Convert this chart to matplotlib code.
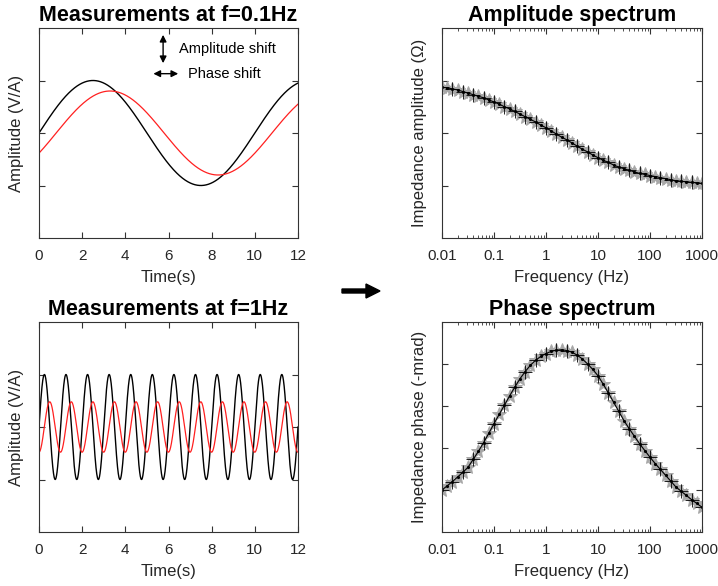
import numpy as np
import matplotlib
matplotlib.use('Agg')
import matplotlib.pyplot as plt
from matplotlib.ticker import FixedLocator, FixedFormatter, LogLocator, NullFormatter

plt.rcParams['font.family'] = ['Liberation Sans', 'DejaVu Sans']

# sine measurements: (frequency Hz, amplitude, phase lag rad)
f_low = 0.1
f_high = 1.0
ref_amp = 1.0
resp_amp_low = 0.8
resp_phase_low = 0.5
resp_amp_high = 0.48
resp_phase_high = 1.55
time_ticks = [0, 2, 4, 6, 8, 10, 12]

# spectra, 10 points per decade from 0.01 Hz to 1000 Hz
freq = np.logspace(-2, 3, 51)
amp_spec = [2.87, 2.86, 2.84, 2.82, 2.79, 2.76, 2.73, 2.70, 2.67, 2.63,
            2.59, 2.55, 2.50, 2.46, 2.41, 2.36, 2.31, 2.26, 2.21, 2.15,
            2.10, 2.04, 1.98, 1.92, 1.87, 1.81, 1.75, 1.69, 1.64, 1.58,
            1.53, 1.48, 1.44, 1.39, 1.35, 1.32, 1.29, 1.26, 1.23, 1.21,
            1.19, 1.17, 1.15, 1.13, 1.11, 1.09, 1.08, 1.07, 1.06, 1.05,
            1.04]
phase_spec = [1.00, 1.10, 1.20, 1.31, 1.42, 1.54, 1.73, 1.92, 2.13, 2.35,
              2.58, 2.80, 3.02, 3.24, 3.45, 3.65, 3.82, 3.97, 4.09, 4.18,
              4.25, 4.30, 4.33, 4.34, 4.32, 4.28, 4.21, 4.12, 4.00, 3.87,
              3.72, 3.52, 3.31, 3.09, 2.87, 2.65, 2.46, 2.28, 2.10, 1.94,
              1.78, 1.63, 1.49, 1.35, 1.21, 1.07, 0.97, 0.87, 0.77, 0.68,
              0.59]
freq_ticks = [0.01, 0.1, 1, 10, 100, 1000]
freq_labels = ['0.01', '0.1', '1', '10', '100', '1000']

W, H = 718, 586
fig = plt.figure(figsize=(W / 100, H / 100), dpi=100)


def box(x0, y0, x1, y1):
    # pixel box -> figure fraction
    return [x0 / W, 1 - y1 / H, (x1 - x0) / W, (y1 - y0) / H]


ax1 = fig.add_axes(box(39, 28, 298, 238))
ax2 = fig.add_axes(box(39, 322, 298, 532))
ax3 = fig.add_axes(box(442, 28, 702, 238))
ax4 = fig.add_axes(box(442, 322, 702, 532))

edge = '#333333'
txt = '#262626'


def style(ax):
    for s in ax.spines.values():
        s.set_color(edge)
        s.set_linewidth(0.8)
    ax.tick_params(which='both', direction='in', top=True, right=True,
                   color=edge, labelsize=11, labelcolor=txt, pad=8)
    ax.tick_params(which='major', length=4)
    ax.tick_params(which='minor', length=2)
    ax.set_yticklabels([])


t = np.linspace(0, 12, 2000)
for ax, f, ra, rp, title in [(ax1, f_low, resp_amp_low, resp_phase_low, 'Measurements at f=0.1Hz'),
                             (ax2, f_high, resp_amp_high, resp_phase_high, 'Measurements at f=1Hz')]:
    ax.plot(t, ref_amp * np.sin(2 * np.pi * f * t), color='black', lw=1.0)
    ax.plot(t, ra * np.sin(2 * np.pi * f * t - rp), color='#ff2020', lw=0.9)
    ax.set_xlim(0, 12)
    ax.set_ylim(-2, 2)
    ax.set_xticks(time_ticks)
    ax.set_yticks([-1, 0, 1])
    style(ax)
    ax.set_xlabel('Time(s)', fontsize=12, color=txt, labelpad=5)
    ax.set_ylabel('Amplitude (V/A)', fontsize=12, color=txt, labelpad=3)
    ax.set_title(title, fontsize=15.5, fontweight='bold', pad=5)

# shift annotations
ax1.annotate('', xy=(5.75, 1.33), xytext=(5.75, 1.87),
             arrowprops=dict(arrowstyle='<|-|>', color='black', lw=1.0,
                             mutation_scale=10, shrinkA=0, shrinkB=0))
ax1.text(6.5, 1.6, 'Amplitude shift', fontsize=10.5, va='center', ha='left')
ax1.annotate('', xy=(5.3, 1.13), xytext=(6.45, 1.13),
             arrowprops=dict(arrowstyle='<|-|>', color='black', lw=1.0,
                             mutation_scale=10, shrinkA=0, shrinkB=0))
ax1.text(6.9, 1.13, 'Phase shift', fontsize=10.5, va='center', ha='left')

for ax, vals, ylim, yticks, ylabel, title in [
        (ax3, amp_spec, (0, 4), [1, 2, 3], 'Impedance amplitude (\u03a9)', 'Amplitude spectrum'),
        (ax4, phase_spec, (0, 5), [1, 2, 3, 4], 'Impedance phase (-mrad)', 'Phase spectrum')]:
    vals = np.array(vals)
    ax.plot(freq, vals, ls='none', marker='*', ms=10, color='#a8a8a8', mew=0.7)
    ax.plot(freq, vals, color='black', lw=0.8, marker='.', ms=2.5)
    ax.plot(freq[::2], vals[::2], ls='none', marker='+', ms=10, color='black', mew=0.6)
    ax.set_xscale('log')
    ax.set_xlim(0.01, 1000)
    ax.set_ylim(*ylim)
    ax.xaxis.set_major_locator(FixedLocator(freq_ticks))
    ax.xaxis.set_major_formatter(FixedFormatter(freq_labels))
    ax.xaxis.set_minor_locator(LogLocator(base=10, subs=np.arange(2, 10), numticks=20))
    ax.xaxis.set_minor_formatter(NullFormatter())
    ax.set_yticks(yticks)
    style(ax)
    ax.set_xlabel('Frequency (Hz)', fontsize=12, color=txt, labelpad=5)
    ax.set_ylabel(ylabel, fontsize=12, color=txt, labelpad=3)
    ax.set_title(title, fontsize=15.5, fontweight='bold', pad=5)

# arrow between the two columns
fig.patches.append(matplotlib.patches.FancyArrow(
    342 / W, 1 - 291 / H, 38 / W, 0, width=4 / H, head_width=14 / H,
    head_length=14 / W, length_includes_head=True, color='black',
    transform=fig.transFigure, figure=fig))

fig.savefig('out.png', dpi=100)
